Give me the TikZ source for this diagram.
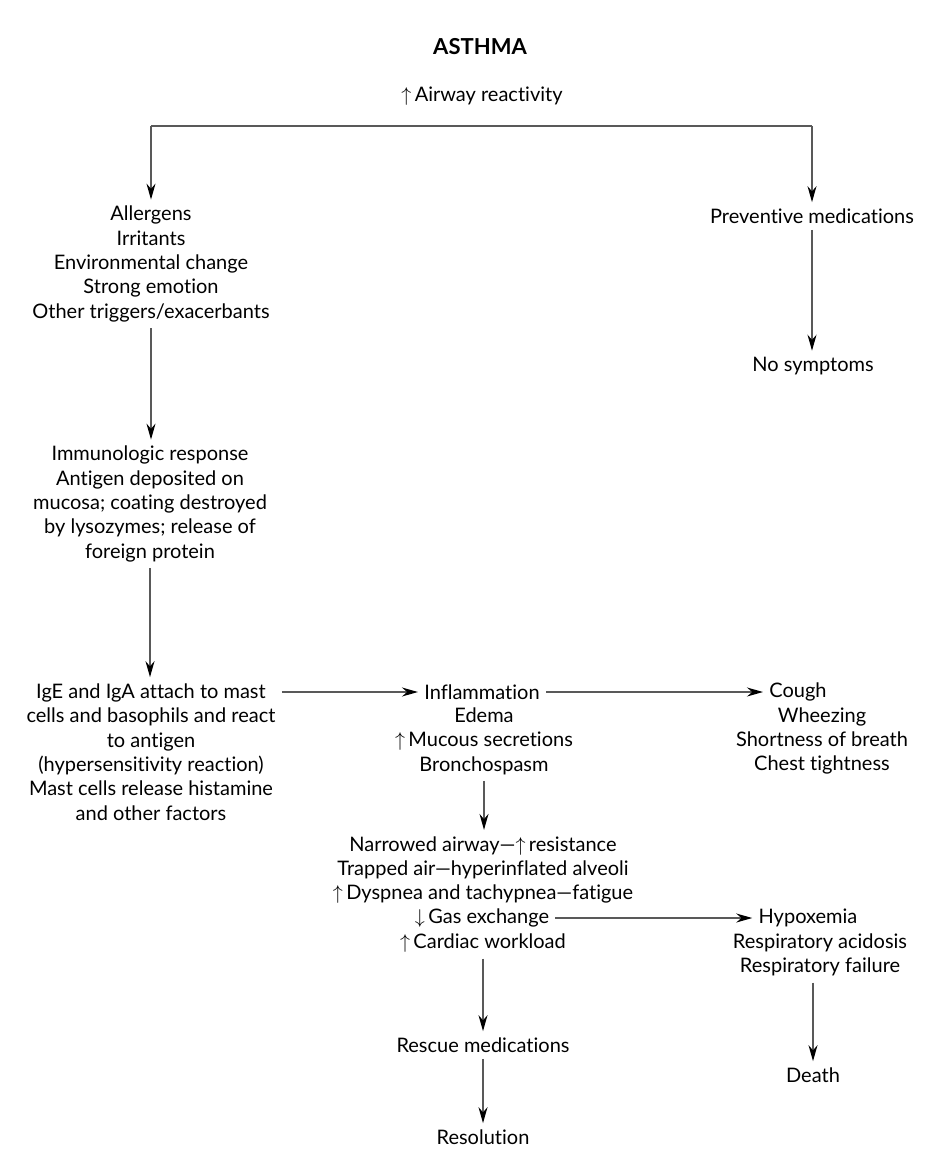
\documentclass[tikz,border=0pt]{standalone}
\usepackage{fontspec}
\setmainfont{Lato}[Ligatures={NoCommon,NoContextual}]
\usepackage{tikz}
\usetikzlibrary{positioning,arrows.meta}
\tikzset{
  txt/.style={align=center,inner sep=3pt,font=\fontsize{10}{12.2}\selectfont},
  flow/.style={-{Stealth[length=8pt,width=4.5pt,color=black]},draw=black!65,line width=0.7pt},
  bar/.style={draw=black!65,line width=0.7pt},
}
\newcommand{\upar}{$\uparrow$\,}
\newcommand{\dnar}{$\downarrow$\,}

\begin{document}
\begin{tikzpicture}[x=0.5pt,y=-0.5pt,>=Stealth]
  \useasboundingbox (0,0) rectangle (928,1155);
  \node[txt,font=\bfseries\fontsize{11}{13}\selectfont] (title) at (480,47) {ASTHMA};
  \node[txt] (react) at (482,96) {\upar Airway reactivity};
  \coordinate (split) at (482,126);
  % left branch
  \node[txt] (trig) at (151,264) {Allergens\\Irritants\\Environmental change\\Strong emotion\\Other triggers/exacerbants};
  \node[txt] (immu) at (150,504) {Immunologic response\\Antigen deposited on\\mucosa; coating destroyed\\by lysozymes; release of\\foreign protein};
  \node[txt] (ige) at (151,752) {IgE and IgA attach to mast\\cells and basophils and react\\to antigen\\(hypersensitivity reaction)\\Mast cells release histamine\\and other factors};
  % right branch
  \node[txt] (prev) at (812,216) {Preventive medications};
  \node[txt] (nosym) at (813,366) {No symptoms};
  % middle column
  \node[txt] (infl) at (482,692) {Inflammation};
  \node[txt] (inflb) at (484,741) {Edema\\\upar Mucous secretions\\Bronchospasm};
  \node[txt] (narrow) at (483,870) {Narrowed airway---\upar resistance\\Trapped air---hyperinflated alveoli\\\upar Dyspnea and tachypnea---fatigue};
  \node[txt] (gas) at (482,918) {\dnar Gas exchange};
  \node[txt] (cardiac) at (483,943) {\upar Cardiac workload};
  \node[txt] (rescue) at (483,1045) {Rescue medications};
  \node[txt] (resol) at (483,1137) {Resolution};
  % symptoms column
  \node[txt] (cough) at (798,692) {Cough};
  \node[txt] (coughb) at (822,741) {Wheezing\\Shortness of breath\\Chest tightness};
  \node[txt] (hypox) at (808,918) {Hypoxemia};
  \node[txt] (hypoxb) at (820,955) {Respiratory acidosis\\Respiratory failure};
  \node[txt] (death) at (813,1075) {Death};

  \draw[bar] (split -| trig.north) -- (split -| prev.north);
  \draw[flow] (split -| trig.north) -- (trig.north);
  \draw[flow] (split -| prev.north) -- (prev.north);
  \draw[flow] (prev.south) -- (prev.south |- nosym.north);
  \draw[flow] (trig.south) -- (trig.south |- immu.north);
  \draw[flow] (immu.south) -- (immu.south |- ige.north);
  \draw[flow] (ige.east |- infl.west) -- (infl.west);
  \draw[flow] (infl.east) -- (cough.west);
  \draw[flow] (inflb.south) -- (inflb.south |- narrow.north);
  \draw[flow] (gas.east) -- (hypox.west);
  \draw[flow] (cardiac.south) -- (rescue.north);
  \draw[flow] (rescue.south) -- (resol.north);
  \draw[flow] (hypoxb.south -| death.north) -- (death.north);
\end{tikzpicture}
\end{document}
